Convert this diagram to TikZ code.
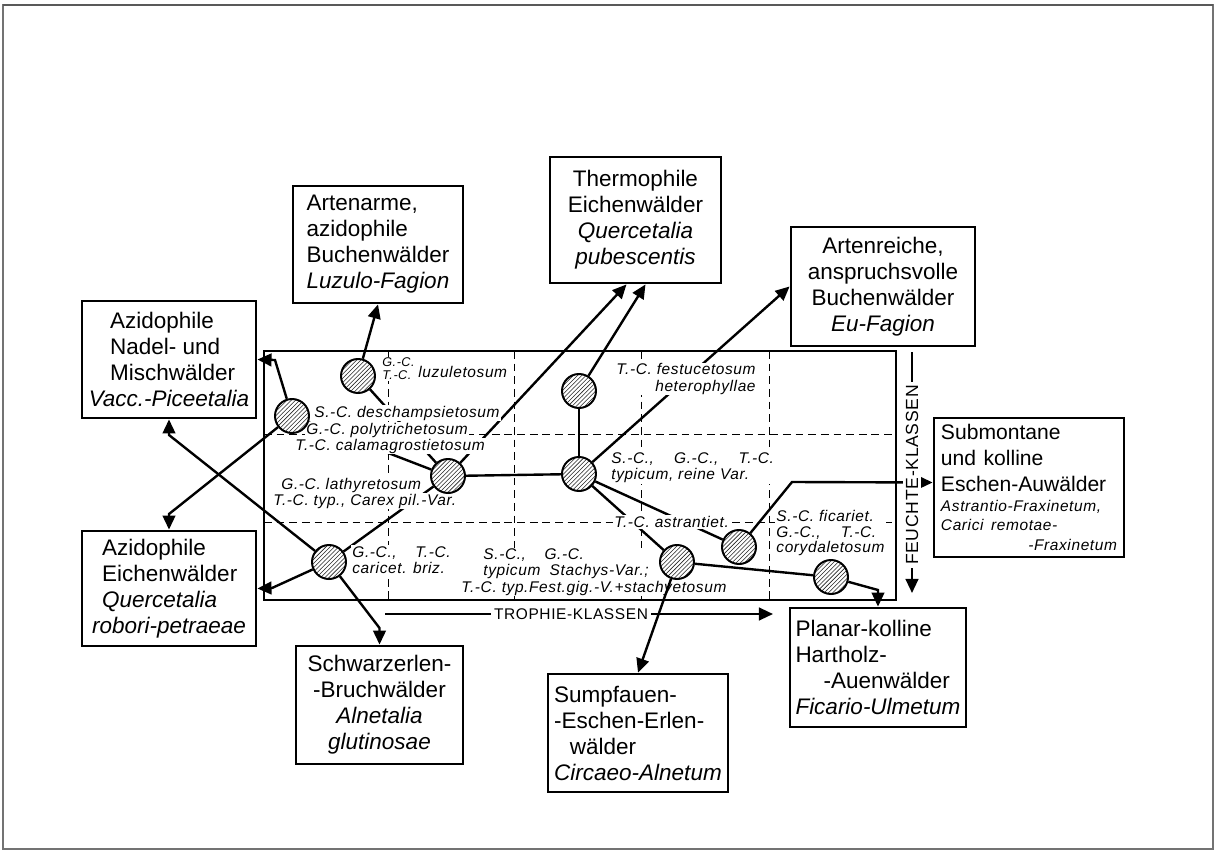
\documentclass[tikz,border=0pt]{standalone}
\usepackage{fontspec}
\setmainfont{Liberation Sans}
\newfontfamily\lblfont{Liberation Sans}[LetterSpace=4]
\usetikzlibrary{calc,patterns,arrows.meta}
\pgfdeclarelayer{back}
\pgfsetlayers{back,main}
\tikzset{
	wald/.style={draw, line width=2pt, inner sep=0pt, font=\fontsize{16}{18.5}\selectfont},
	hub/.style={circle, draw, line width=1.4pt, minimum size=0.85cm, inner sep=0pt, preaction={fill=white}, pattern=north east lines, pattern color=black!85},
	lbl/.style={anchor=west, align=left, fill=white, inner sep=0.8pt, font=\lblfont\itshape\fontsize{11}{11.6}\selectfont},
	verb/.style={line width=1.7pt},
	pfeil/.style={line width=1.7pt, -{Triangle[length=10pt,width=9pt]}},
	raster/.style={dash pattern=on 5.5pt off 3.5pt, line width=0.6pt},
	klasse/.style={fill=white, inner sep=2pt, font=\lblfont\fontsize{11}{13}\selectfont}
}

\begin{document}
\begin{tikzpicture}[x=0.025cm, y=-0.025cm]
	%%%%% START %%%%%
	\useasboundingbox (0,0) rectangle (1218,856);
	\begin{pgfonlayer}{back}
		\fill[white] (0,0) rectangle (1218,856);
	\end{pgfonlayer}
	
	\draw[black!55, line width=0.9pt] (3,5) rectangle (1213,849);
	\draw[black!65, line width=2pt] (3,5) -- (1213,5);
	
	% Raster der Trophie- und Feuchteklassen
	\begin{pgfonlayer}{back}
		\foreach \x in {388,514,641,769}
			\draw[raster] (\x,351) -- (\x,600);
		\foreach \y in {434,522}
			\draw[raster] (264,\y) -- (896,\y);
		\draw[line width=1.5pt] (264,351) rectangle (896,600);
	\end{pgfonlayer}
	
	% Waldgesellschaften
	\node[wald, minimum width=4.25cm, minimum height=2.925cm, align=left] (luzulo) at (378,244.5) {Artenarme,\\azidophile\\Buchenwälder\\\textit{Luzulo-Fagion}};
	\node[wald, minimum width=4.35cm, minimum height=2.925cm, align=left] (nadel) at (169,359.5) {\hspace*{0.95em}Azidophile\\\hspace*{0.95em}Nadel- und\\\hspace*{0.95em}Mischwälder\\\textit{Vacc.-Piceetalia}};
	\node[wald, minimum width=4.275cm, minimum height=3.15cm, align=center] (thermo) at (635.5,220) {Thermophile\\Eichenwälder\\\textit{Quercetalia}\\\textit{pubescentis}};
	\node[wald, minimum width=4.6cm, minimum height=2.975cm, align=center] (eufagion) at (883,286.5) {Artenreiche,\\anspruchsvolle\\Buchenwälder\\\textit{Eu-Fagion}};
	\node[wald, minimum width=4.75cm, minimum height=3.475cm, text width=4.4cm, align=left] (submontane) at (1029,487.5) {{\fontsize{15}{18.5}\selectfont Submontane\\und kolline\\Eschen-Auwälder\par}{\lblfont\itshape\fontsize{11}{14}\selectfont Astrantio-Fraxinetum,\\Carici remotae-\\\hspace*{\fill}-Fraxinetum\par}};
	\node[wald, minimum width=4.4cm, minimum height=2.975cm, align=left] (planar) at (878,667.5) {Planar-kolline\\Hartholz-\\\hspace*{1.25em}-Auenwälder\\\textit{Ficario-Ulmetum}};
	\node[wald, minimum width=4.35cm, minimum height=2.875cm, align=left] (eichen) at (169,588.5) {\hspace*{0.45em}Azidophile\\\hspace*{0.45em}Eichenwälder\\\hspace*{0.45em}\textit{Quercetalia}\\\textit{robori-petraeae}};
	\node[wald, minimum width=4.175cm, minimum height=2.95cm, align=center] (schwarz) at (379.5,705) {Schwarzerlen-\\-Bruchwälder\\\textit{Alnetalia}\\\textit{glutinosae}};
	\node[wald, minimum width=4.5cm, minimum height=2.95cm, align=left] (sumpf) at (638,733) {Sumpfauen-\\-Eschen-Erlen-\\\hspace*{0.7em}wälder\\\textit{Circaeo-Alnetum}};
	
	% Subassoziationen
	\node[lbl, font=\lblfont\itshape\fontsize{9}{9.4}\selectfont] (lA1) at (381,369) {G.-C.\\T.-C.};
	\node[lbl] (lA2) at (417,372) {luzuletosum};
	\node[lbl] (lB1) at (313,413) {S.-C. deschampsietosum};
	\node[lbl] (lB2) at (305,430) {G.-C. polytrichetosum};
	\node[lbl] (lB3) at (294,446) {T.-C. calamagrostietosum};
	\node[lbl] (lC1) at (280,485) {G.-C. lathyretosum};
	\node[lbl] (lC2) at (272,501) {T.-C. typ., Carex pil.-Var.};
	\node[lbl] (lD) at (351,560) {G.-C.,\hspace{1.2em}T.-C.\\caricet. briz.};
	\node[lbl, anchor=east, align=right] (lE) at (757,379) {T.-C. festucetosum\\heterophyllae};
	\node[lbl] (lF) at (610,468) {S.-C.,\hspace{1.3em}G.-C.,\hspace{1.3em}T.-C.\\typicum, reine Var.};
	\node[lbl] (lT) at (613,522) {T.-C. astrantiet.};
	\node[lbl, font=\lblfont\itshape\fontsize{11}{10.8}\selectfont] (lH) at (775,533) {S.-C. ficariet.\\G.-C.,\hspace{1.3em}T.-C.\\corydaletosum};
	\node[lbl] (lG1) at (482,564) {S.-C.,\hspace{1.2em}G.-C.\\typicum\hspace{0.6em}Stachys-Var.;};
	\node[lbl] (lG2) at (460,588) {T.-C. typ.Fest.gig.-V.+stachyetosum};
	
	\node[hub] (A) at (358,376) {};
	\node[hub] (B) at (292,416) {};
	\node[hub] (C) at (448,476) {};
	\node[hub] (D) at (329,562) {};
	\node[hub] (E) at (579,391) {};
	\node[hub] (F) at (579,474) {};
	\node[hub] (G) at (677,562) {};
	\node[hub] (H) at (739,547) {};
	\node[hub] (I) at (831,577) {};
	
	\coordinate (kB1) at (275,360);
	\coordinate (kB2) at (169,514);
	\coordinate (kD1) at (169,435);
	\coordinate (kD2) at (272,588);
	\coordinate (kD3) at (379.5,628);
	\coordinate (kH) at (792,482);
	\coordinate (kI) at (878,590);
	\coordinate (tr0) at (385,614);
	\coordinate (tr1) at (773,614);
	\coordinate (fe0) at (912,352);
	\coordinate (fe1) at (912,593);
	
	% Linien hinter den Beschriftungen
	\begin{pgfonlayer}{back}
		\draw[verb] (C) -- (A);
		\draw[verb] (C) -- (B);
		\draw[verb] (C) -- (D);
		\draw[verb] (F) -- (G);
		\draw[verb] (F) -- (H);
		\draw[pfeil] (C) -- ($(thermo.south)+(-9,0)$);
		\draw[pfeil] (F) -- (eufagion.west);
		\draw[pfeil] (H) -- (kH) -- ($(submontane.west)+(0,-5)$);
		\draw[pfeil] (tr0) -- (tr1);
		\draw[pfeil] (fe0) -- (fe1);
	\end{pgfonlayer}
	
	\node[klasse] (trophie) at (571,614) {TROPHIE-KLASSEN};
	\node[klasse, rotate=90, font=\lblfont\fontsize{12.5}{14}\selectfont] (feuchte) at (912,475) {FEUCHTE-KLASSEN};
	
	\draw[verb] (C) -- (F);
	\draw[verb] (E) -- (F);
	\draw[verb] (G) -- (I);
	\draw[pfeil] (A) -- (luzulo.south);
	\draw[pfeil] (B) -- (kB1) -- (nadel.east);
	\draw[pfeil] (B) -- (kB2) -- (eichen.north);
	\draw[pfeil] (D) -- (kD1) -- (nadel.south);
	\draw[pfeil] (D) -- (kD2) -- (eichen.east);
	\draw[pfeil] (D) -- (kD3) -- (schwarz.north);
	\draw[pfeil] (E) -- ($(thermo.south)+(10,0)$);
	\draw[pfeil] (G) -- (sumpf.north);
	\draw[pfeil] (I) -- (kI) -- (planar.north);
	
	%%%%% END %%%%%
\end{tikzpicture}
\end{document}
